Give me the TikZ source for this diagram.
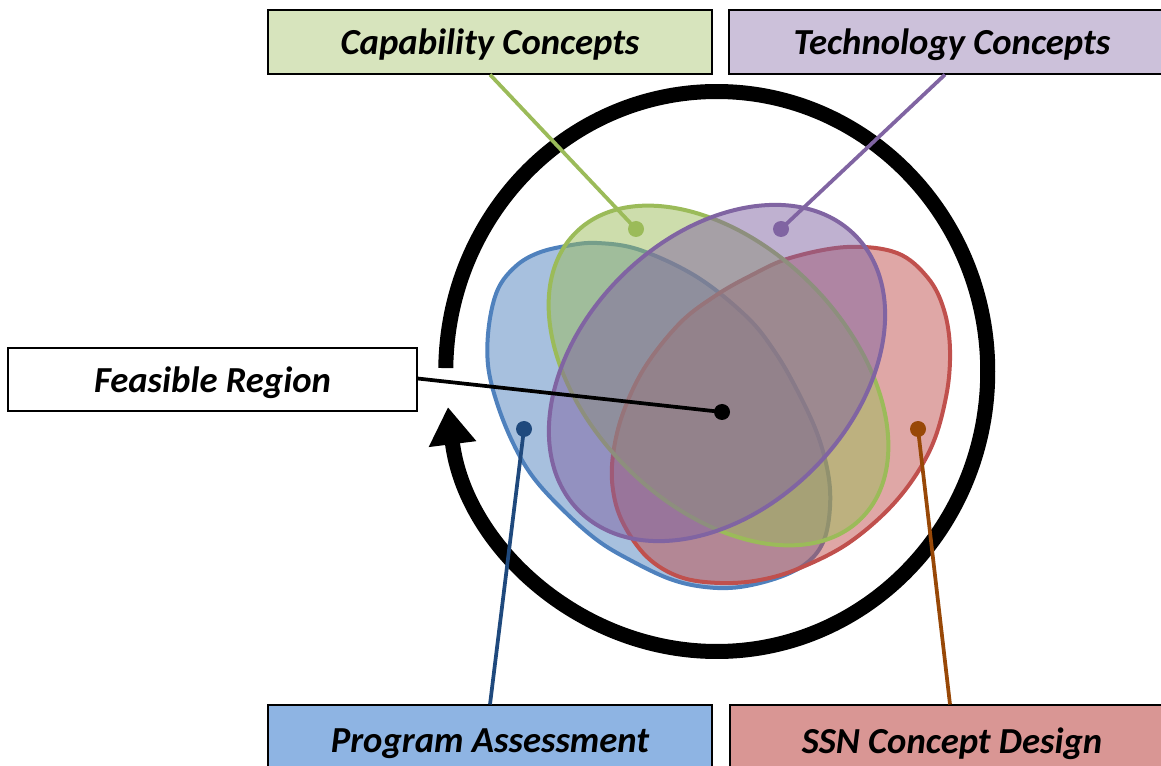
\documentclass[tikz,border=0pt]{standalone}
\usepackage{fontspec}
\setmainfont{Carlito}
\usetikzlibrary{arrows.meta}
\definecolor{cblue}{HTML}{4F81BD}
\definecolor{cgreen}{HTML}{9BBB59}
\definecolor{cpurple}{HTML}{8064A2}
\definecolor{cred}{HTML}{C0504D}
\definecolor{dblue}{HTML}{1F497D}
\definecolor{dbrown}{HTML}{984807}
\definecolor{bgreen}{HTML}{D7E4BD}
\definecolor{bpurple}{HTML}{CCC1DA}
\definecolor{bblue}{HTML}{8EB4E3}
\definecolor{bred}{HTML}{D99694}
\begin{document}
\begin{tikzpicture}[x=0.75pt,y=-0.75pt,
  labelbox/.style={draw=black,line width=0.9pt,inner sep=0pt,text depth=0pt,
    font=\fontsize{27.5pt}{33pt}\selectfont\bfseries\itshape},
  blob/.style={line width=3pt,fill opacity=0.5},
  conn/.style={line width=2.8pt},
  dot/.style={circle,inner sep=0pt,minimum size=12pt}]
\useasboundingbox (0,0) rectangle (1161,766);
\clip (0,0) rectangle (1161,766);

% cycle arrow
\draw[line width=11.25pt,-{Triangle[length=28pt,width=34pt]}]
  (716.75,371.5) ++(180.7:271 and 280)
  arc[start angle=180.7,end angle=532.7,x radius=271,y radius=280];

% blue shape
\draw[blob,draw=cblue,fill=cblue] plot[smooth cycle,tension=0.6] coordinates {
 (597,243) (640,250) (697,277) (747,317) (775,352) (797,390) (817,433)
 (828,473) (830,507) (824,540) (808,562) (780,577) (740,587) (705,587)
 (670,579) (630,560) (597,540) (563,510) (533,477) (513,443) (497,403)
 (488,365) (489,325) (498,289) (516,266) (538,253) (566,246)};
% red shape
\draw[blob,draw=cred,fill=cred] plot[smooth cycle,tension=0.6] coordinates {
 (847,247) (897,253) (928,278) (944,310) (950,350) (946,397) (930,450)
 (897,500) (850,542) (800,568) (760,580) (720,583) (680,577) (647,557)
 (623,523) (613,490) (613,455) (623,413) (645,367) (680,323) (715,296)
 (750,276) (790,258)};
% green ellipse
\draw[blob,draw=cgreen,fill=cgreen,rotate around={-45:(718.5,375.5)}]
  (718.5,375.5) ellipse[x radius=202,y radius=130];
% purple ellipse
\draw[blob,draw=cpurple,fill=cpurple,rotate around={45:(717,373)}]
  (717,373) ellipse[x radius=195,y radius=136];

% label boxes
\node[labelbox,fill=bgreen,minimum width=333pt,minimum height=48pt] (cap) at (490,42) {Capability Concepts};
\node[labelbox,fill=bpurple,minimum width=334.5pt,minimum height=48pt] (tech) at (952,42) {Technology Concepts};
\node[labelbox,fill=white,minimum width=306.75pt,minimum height=47.25pt] (feas) at (212.5,379.5) {Feasible Region};
\node[labelbox,fill=bblue,minimum width=333pt,minimum height=53.25pt] (prog) at (490,740.5) {Program Assessment};
\node[labelbox,fill=bred,minimum width=333pt,minimum height=53.25pt] (ssn) at (952,740.5) {SSN Concept Design};

% dots and connectors
\node[dot,fill=cgreen] (gdot) at (636,229) {};
\node[dot,fill=cpurple] (pdot) at (781,229) {};
\node[dot,fill=black] (kdot) at (722,412) {};
\node[dot,fill=dblue] (bdot) at (524,429) {};
\node[dot,fill=dbrown] (rdot) at (918,429) {};
\draw[conn,cgreen] (gdot.center) -- (cap.south);
\draw[conn,cpurple] (pdot.center) -- ([xshift=-5.25pt]tech.south);
\draw[conn,black] (kdot.center) -- ([yshift=0.75pt]feas.east);
\draw[conn,dblue] (bdot.center) -- (prog.north);
\draw[conn,dbrown] (rdot.center) -- ([xshift=-1.5pt]ssn.north);
\end{tikzpicture}
\end{document}
